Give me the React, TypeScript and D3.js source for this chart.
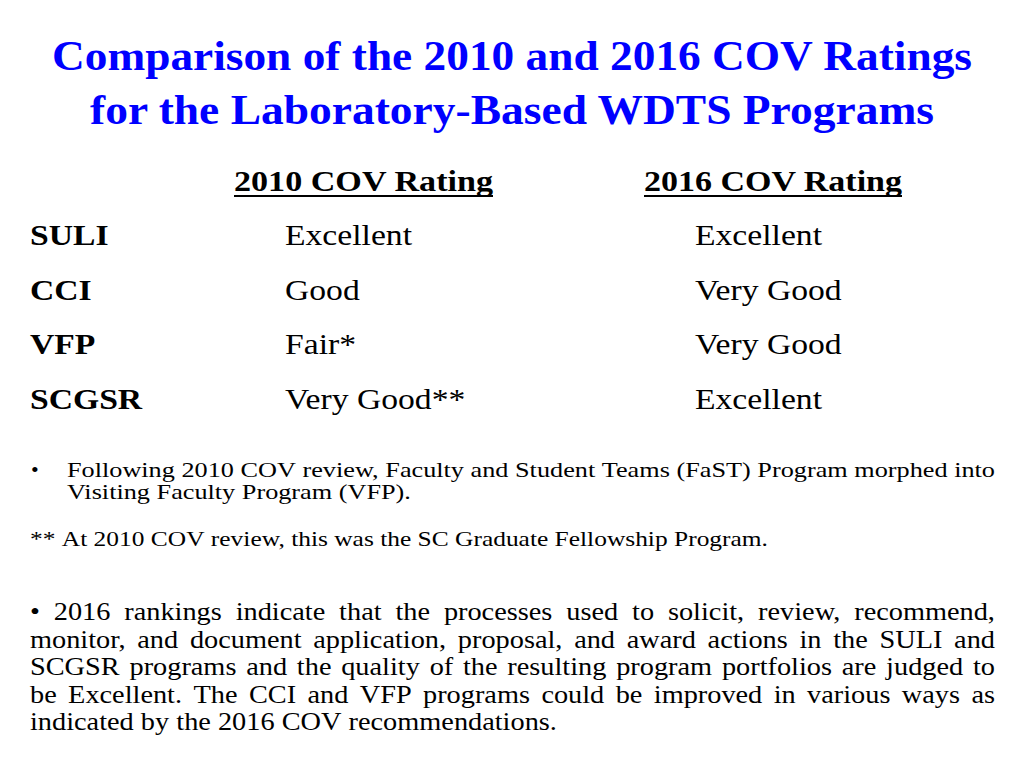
import React from "react";
import * as d3 from "d3";

const titleLines = [
  "Comparison of the 2010 and 2016 COV Ratings",
  "for the Laboratory-Based WDTS Programs",
];
const columnHeaders = ["2010 COV Rating", "2016 COV Rating"];
const programs = ["SULI", "CCI", "VFP", "SCGSR"];
const ratings2010 = ["Excellent", "Good", "Fair*", "Very Good**"];
const ratings2016 = ["Excellent", "Very Good", "Very Good", "Excellent"];
const noteLines = [
  "Following 2010 COV review, Faculty and Student Teams (FaST) Program morphed into",
  "Visiting Faculty Program (VFP).",
];
const footnote = "** At 2010 COV review, this was the SC Graduate Fellowship Program.";
const summaryLines = [
  "• 2016 rankings indicate that the processes used to solicit, review, recommend,",
  "monitor, and document application, proposal, and award actions in the SULI and",
  "SCGSR programs and the quality of the resulting program portfolios are judged to",
  "be Excellent. The CCI and VFP programs could be improved in various ways as",
  "indicated by the 2016 COV recommendations.",
];

let ctx: CanvasRenderingContext2D | null = null;
function getCtx() {
  if (!ctx) ctx = document.createElement("canvas").getContext("2d");
  return ctx;
}

const CANDIDATES = [
  "Liberation Serif",
  "Times New Roman",
  "Tinos",
  "Nimbus Roman",
  "Nimbus Roman No9 L",
  "DejaVu Serif Condensed",
  "DejaVu Serif",
];
let serifName: string | null = null;
function serif(): string {
  if (serifName) return serifName;
  const c = getCtx();
  const probe = "abcdefghijklmnopqrstuvwxyz WMil 0123";
  serifName = "serif";
  if (c) {
    for (const base of ["monospace", "sans-serif"]) {
      c.font = `40px ${base}`;
      const a = c.measureText(probe).width;
      const found = CANDIDATES.find((n) => {
        c.font = `40px "${n}", ${base}`;
        return c.measureText(probe).width !== a;
      });
      if (found) {
        serifName = found;
        break;
      }
    }
  }
  return serifName;
}

function measure(text: string, size: number, weight = "normal"): number {
  const c = getCtx();
  if (!c) return text.length * size * 0.45;
  c.font = `${weight} ${size}px "${serif()}", serif`;
  return c.measureText(text).width;
}

type Mode = "justify" | "none";

function Line({
  text,
  x0,
  x1,
  y,
  size,
  sx,
  mode,
}: {
  text: string;
  x0: number;
  x1: number;
  y: number;
  size: number;
  sx: number;
  mode: Mode;
}) {
  const words = text.split(" ");
  const widths = words.map((w) => measure(w, size));
  const space = measure(" ", size);
  const sumW = d3.sum(widths);
  let s = sx;
  let gap = space;
  if (mode === "justify" && words.length > 1) {
    const W = (x1 - x0) / s;
    gap = (W - sumW) / (words.length - 1);
    if (gap < space * 0.6) {
      gap = space * 0.6;
      s = (x1 - x0) / (sumW + gap * (words.length - 1));
    }
  }
  let cx = 0;
  const xs = widths.map((w) => {
    const p = cx;
    cx += w + gap;
    return p;
  });
  return (
    <text
      transform={`translate(${x0},${y}) scale(${s},1)`}
      fontSize={size}
      fill="#000"
    >
      {words.map((w, i) => (
        <tspan key={i} x={xs[i]} y={0}>
          {w}
        </tspan>
      ))}
    </text>
  );
}

export default function App() {
  const width = 1024;
  const height = 768;
  const family = `"${serif()}", serif`;

  const rowY = d3.scalePoint<string>().domain(programs).range([245, 409]);
  const colX = d3
    .scaleOrdinal<string, number>()
    .domain(columnHeaders)
    .range([285, 695]);
  const headerX = d3
    .scaleOrdinal<string, number>()
    .domain(columnHeaders)
    .range([234, 644]);
  const headerLen = d3
    .scaleOrdinal<string, number>()
    .domain(columnHeaders)
    .range([259, 258]);

  const titleStart = [52, 90];
  const titleLen = [920, 844];

  const rowSize = 30;
  const rowF = 127 / measure("Excellent", rowSize);
  const noteSize = 21;
  const noteF = 928 / measure(noteLines[0], noteSize);
  const sumSize = 26;
  const sumF = 527 / measure(summaryLines[summaryLines.length - 1], sumSize);
  const footF = 738 / measure(footnote, noteSize);

  return (
    <svg
      width={width}
      height={height}
      style={{ position: "absolute", left: 0, top: 0, background: "#fff", fontFamily: family }}
    >
      <rect x={0} y={0} width={width} height={height} fill="#fff" />
      {titleLines.map((t, i) => (
        <text
          key={t}
          x={titleStart[i]}
          y={70 + i * 53.5}
          fontSize={43}
          fontWeight="bold"
          fill="#0000ff"
          textLength={titleLen[i]}
          lengthAdjust="spacingAndGlyphs"
        >
          {t}
        </text>
      ))}

      {columnHeaders.map((h) => {
        const x = headerX(h);
        const w = headerLen(h);
        return (
          <g key={h}>
            <text
              x={x}
              y={191}
              fontSize={29}
              fontWeight="bold"
              fill="#000"
              textLength={w}
              lengthAdjust="spacingAndGlyphs"
            >
              {h}
            </text>
            <line x1={x} x2={x + w} y1={196} y2={196} stroke="#000" strokeWidth={2} />
          </g>
        );
      })}

      {programs.map((p, i) => (
        <g key={p}>
          <text
            x={30}
            y={rowY(p)}
            fontSize={rowSize}
            fontWeight="bold"
            fill="#000"
            textLength={measure(p, rowSize, "bold") * rowF}
            lengthAdjust="spacingAndGlyphs"
          >
            {p}
          </text>
          <text
            x={colX(columnHeaders[0])}
            y={rowY(p)}
            fontSize={rowSize}
            fill="#000"
            textLength={measure(ratings2010[i], rowSize) * rowF}
            lengthAdjust="spacingAndGlyphs"
          >
            {ratings2010[i]}
          </text>
          <text
            x={colX(columnHeaders[1])}
            y={rowY(p)}
            fontSize={rowSize}
            fill="#000"
            textLength={measure(ratings2016[i], rowSize) * rowF}
            lengthAdjust="spacingAndGlyphs"
          >
            {ratings2016[i]}
          </text>
        </g>
      ))}

      <text x={31} y={477} fontSize={22} fill="#000">
        •
      </text>
      {noteLines.map((t, i) => (
        <Line
          key={t}
          text={t}
          x0={67}
          x1={995}
          y={477 + i * 22}
          size={noteSize}
          sx={noteF}
          mode={i < noteLines.length - 1 ? "justify" : "none"}
        />
      ))}
      <Line text={footnote} x0={30} x1={768} y={546} size={noteSize} sx={footF} mode="none" />

      {summaryLines.map((t, i) => (
        <Line
          key={t}
          text={t}
          x0={30}
          x1={995}
          y={620 + i * 27.5}
          size={sumSize}
          sx={sumF}
          mode={i < summaryLines.length - 1 ? "justify" : "none"}
        />
      ))}
    </svg>
  );
}
